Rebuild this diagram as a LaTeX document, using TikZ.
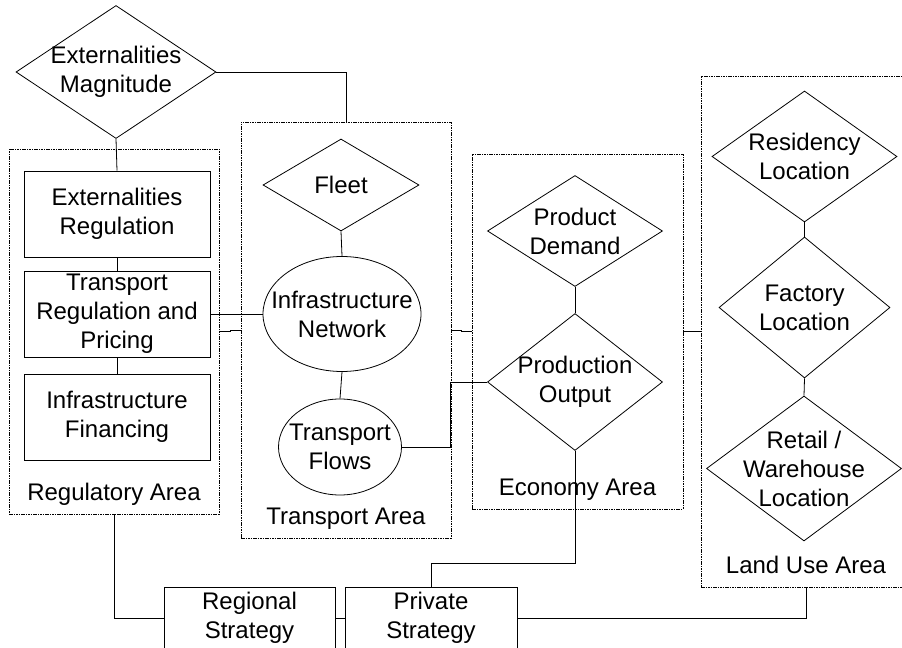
\documentclass[tikz,border=0pt]{standalone}
\usepackage{fontspec}
\setmainfont{Liberation Sans}
\usepackage{tikz}
\usetikzlibrary{positioning, fit, shapes, shapes.geometric}

\begin{document}
\begin{tikzpicture}[x=0.75pt, y=-0.75pt,
			line width=0.6pt,
			font=\fontsize{18}{21.75}\selectfont,
			areabox/.style={draw, dash pattern=on 1.2pt off 0.6pt, line width=0.5pt, inner sep=0pt},
			blk/.style={draw, rectangle, inner sep=1pt, align=center, minimum width=139.5pt, minimum height=64.5pt},
			dia/.style={draw, diamond, inner sep=0pt},
			ell/.style={draw, ellipse, inner sep=0pt},
			txt/.style={align=center, inner sep=0pt},
			arealbl/.style={anchor=base, inner sep=0pt}]
			\useasboundingbox (0,0) rectangle (902,648);
			\clip (0,0) rectangle (902,648);
			% areas
			\node[areabox, fit={(9,149) (219,514)}] (regarea) {};
			\node[areabox, fit={(241,122) (451,538)}] (tarea) {};
			\node[areabox, fit={(472,154) (683,509)}] (earea) {};
			\node[areabox, fit={(701,76) (911,587)}] (luarea) {};
			\node[arealbl] (reglbl) at ([yshift=10.5pt]regarea.south) {Regulatory Area};
			\node[arealbl] (tlbl) at ([yshift=10.5pt]tarea.south) {Transport Area};
			\node[arealbl] (elbl) at ([yshift=10.5pt]earea.south) {Economy Area};
			\node[arealbl] (lulbl) at ([yshift=10.5pt]luarea.south) {Land Use Area};
			% regulatory
			\node[dia, minimum width=150pt, minimum height=99.75pt] (extmag) at (116,72) {};
			\node[txt] (extmagtxt) at (extmag) {Externalities\\Magnitude};
			\node[blk] (extreg) at (117,214) {Externalities\\Regulation};
			\node[blk] (trreg) at (117,314) {Transport\\Regulation and\\Pricing};
			\node[blk] (infin) at (117,417) {Infrastructure\\Financing};
			% transport
			\node[dia, minimum width=117pt, minimum height=69pt] (fleet) at (341,185) {};
			\node[txt] (fleettxt) at (fleet) {Fleet};
			\node[ell, minimum width=118.5pt, minimum height=86.25pt] (infnet) at (342,314) {};
			\node[txt] (infnettxt) at (infnet) {Infrastructure\\Network};
			\node[ell, minimum width=92.25pt, minimum height=72pt] (tflows) at (340,447) {};
			\node[txt] (tflowstxt) at (tflows) {Transport\\Flows};
			% economy
			\node[dia, minimum width=131.25pt, minimum height=83.25pt] (proddem) at (575,231) {};
			\node[txt] (proddemtxt) at (proddem) {Product\\Demand};
			\node[dia, minimum width=131.25pt, minimum height=102.75pt] (prodout) at (575,382) {};
			\node[txt] (prodouttxt) at (prodout) {Production\\Output};
			% land use
			\node[dia, minimum width=138.75pt, minimum height=98.25pt] (resloc) at (804.5,156.5) {};
			\node[txt] (resloctxt) at (resloc) {Residency\\Location};
			\node[dia, minimum width=128.25pt, minimum height=105.75pt] (facloc) at (804.5,307.5) {};
			\node[txt] (facloctxt) at (facloc) {Factory\\Location};
			\node[dia, minimum width=146.25pt, minimum height=108.75pt] (retloc) at (804,468.5) {};
			\node[txt] (retloctxt) at (retloc) {Retail /\\Warehouse\\Location};
			% strategies
			\node[blk, minimum width=128.25pt, minimum height=46.5pt] (regstrat) at (249.5,618) {Regional\\Strategy};
			\node[blk, minimum width=129pt, minimum height=46.5pt] (privstrat) at (431,618) {Private\\Strategy};
			% links
			\draw (extmag.south) -- (extreg.north);
			\draw (extmag.east) -| (tarea.north);
			\draw (extreg.south) -- (trreg.north);
			\draw (trreg.south) -- (infin.north);
			\draw (trreg.east) -- (infnet.west);
			\draw (regarea.east) -- ++(11,0) |- (tarea.west);
			\draw (fleet.south) -- (infnet.north);
			\draw (infnet.south) -- (tflows.north);
			\draw (tarea.east) -- ++(10,0) |- (earea.west);
			\draw (tflows.east) -- ++(48,0) |- (prodout.west);
			\draw (proddem.south) -- (prodout.north);
			\draw (earea.east) -- (luarea.west);
			\draw (resloc.south) -- (facloc.north);
			\draw (facloc.south) -- (retloc.north);
			\draw (prodout.south) -- ++(0,112) -| (privstrat.north);
			\draw (regarea.south) |- (regstrat.west);
			\draw (regstrat.east) -- (privstrat.west);
			\draw (luarea.south) |- (privstrat.east);
		\end{tikzpicture}
\end{document}
